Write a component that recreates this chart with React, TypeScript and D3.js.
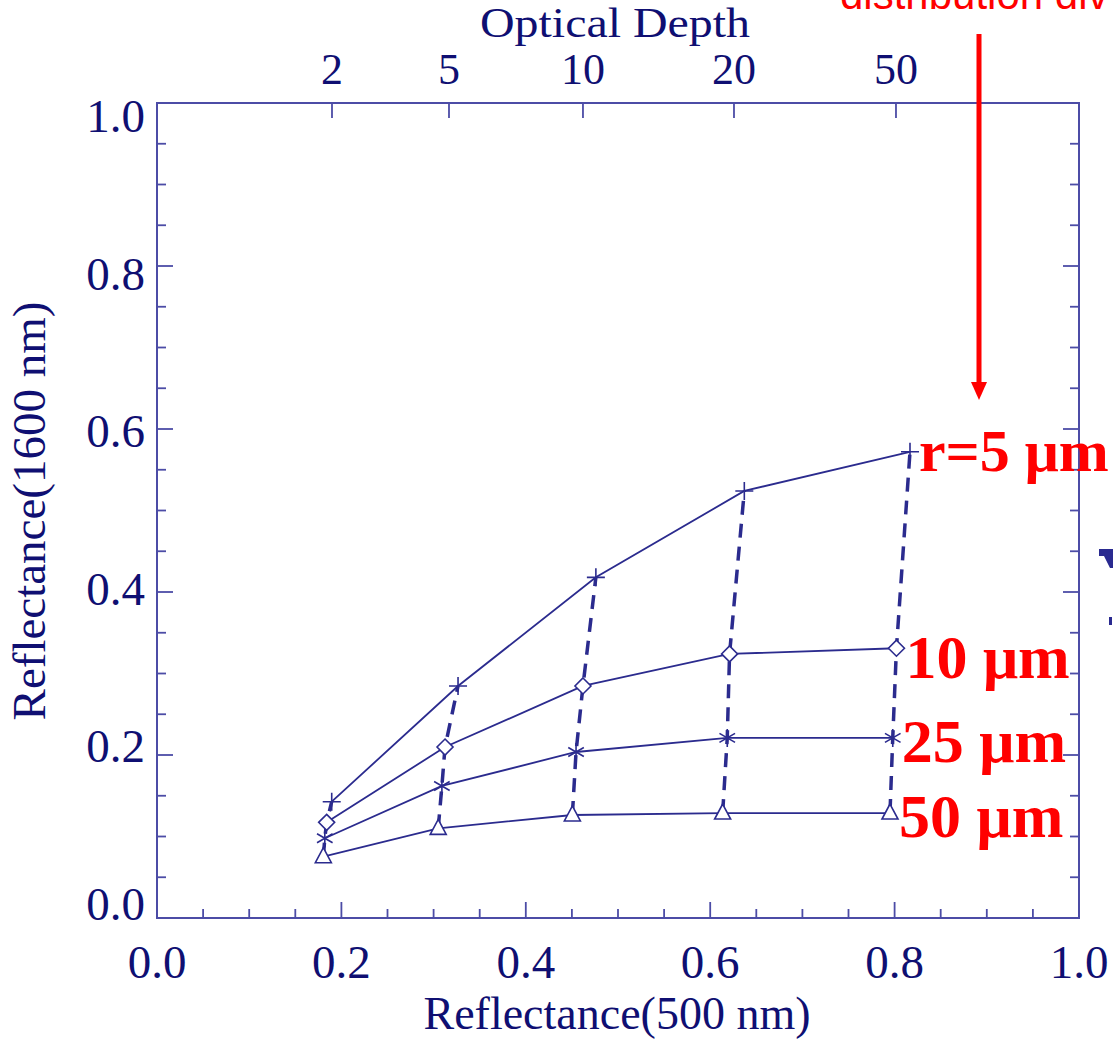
import React from 'react';
import * as d3 from 'd3';

// reflectance at 500 nm (x) and 1600 nm (y), one list per effective radius
const radiusLabels = ['r=5 \u03bcm', '10 \u03bcm', '25 \u03bcm', '50 \u03bcm'];
const markerKinds = ['plus', 'diamond', 'asterisk', 'triangle'];
const x500_r5 = [0.1895, 0.3265, 0.476, 0.637, 0.8167];
const y1600_r5 = [0.1427, 0.2847, 0.418, 0.524, 0.572];
const x500_r10 = [0.184, 0.3124, 0.462, 0.621, 0.802];
const y1600_r10 = [0.1174, 0.2098, 0.2847, 0.324, 0.331];
const x500_r25 = [0.182, 0.309, 0.4545, 0.6185, 0.798];
const y1600_r25 = [0.0978, 0.162, 0.2037, 0.221, 0.221];
const x500_r50 = [0.1804, 0.305, 0.4505, 0.6135, 0.795];
const y1600_r50 = [0.0752, 0.11, 0.1264, 0.1288, 0.1288];

// top axis: optical depth labels and where they sit on the 500 nm axis
const tauLabels = ['2', '5', '10', '20', '50'];
const tauAt = [0.1898, 0.3167, 0.462, 0.6258, 0.8015];

const xTickLabels = ['0.0', '0.2', '0.4', '0.6', '0.8', '1.0'];
const yTickLabels = ['0.0', '0.2', '0.4', '0.6', '0.8', '1.0'];

const W = 1113, H = 1039;
const NAVY = '#0f0f72';
const AXIS = '#4c4ca6';
const LINE = '#2b2b8e';
const RED = '#ff0000';

const Marker = ({ kind, cx, cy }: { kind: string; cx: number; cy: number }) => {
  const s = { stroke: LINE, strokeWidth: 1.6, fill: 'none' };
  if (kind === 'plus') {
    return <path d={`M${cx - 9},${cy}H${cx + 9}M${cx},${cy - 9}V${cy + 9}`} {...s} />;
  }
  if (kind === 'diamond') {
    return <path d={`M${cx},${cy - 8}L${cx + 8},${cy}L${cx},${cy + 8}L${cx - 8},${cy}Z`} {...s} fill="white" />;
  }
  if (kind === 'asterisk') {
    const r = 9;
    const d = [90, 30, 150].map((a) => {
      const dx = r * Math.cos((a * Math.PI) / 180), dy = r * Math.sin((a * Math.PI) / 180);
      return `M${cx - dx},${cy - dy}L${cx + dx},${cy + dy}`;
    }).join('');
    return <path d={d} {...s} />;
  }
  return <path d={`M${cx},${cy - 9}L${cx + 8},${cy + 6}L${cx - 8},${cy + 6}Z`} {...s} fill="white" />;
};

export default function App() {
  const x = d3.scaleLinear().domain([0, 1]).range([157, 1079]);
  const y = d3.scaleLinear().domain([0, 1]).range([918, 103]);
  // label baselines are spread a little differently from the ticks in the original
  const yLab = d3.scaleLinear().domain([0, 1]).range([920, 132]);

  const xs = [x500_r5, x500_r10, x500_r25, x500_r50];
  const ys = [y1600_r5, y1600_r10, y1600_r25, y1600_r50];
  const series = xs.map((col, i) => col.map((v, j) => [v, ys[i][j]] as [number, number]));
  const line = d3.line<[number, number]>().x((d) => x(d[0])).y((d) => y(d[1]));
  const tauLines = tauLabels.map((_, j) => series.map((s) => s[j]).reverse());

  const minor = d3.range(0, 1.0001, 0.05);
  const isMajor = (v: number) => Math.abs(v * 5 - Math.round(v * 5)) < 1e-6;

  const labelDy = [19, 30, 24, 24];
  const serif = '"Liberation Serif", "Times New Roman", serif';

  return (
    <svg width={W} height={H} style={{ position: 'absolute', left: 0, top: 0, background: 'white' }}>
      {/* frame */}
      <rect x={x(0)} y={y(1)} width={x(1) - x(0)} height={y(0) - y(1)} fill="none" stroke={AXIS} strokeWidth={2} />
      {/* bottom / left / right ticks */}
      {minor.map((v) => (
        <g key={v} stroke={AXIS} strokeWidth={1.8}>
          <line x1={x(v)} x2={x(v)} y1={y(0)} y2={y(0) - (isMajor(v) ? 16 : 9)} />
          <line x1={x(0)} x2={x(0) + (isMajor(v) ? 16 : 9)} y1={y(v)} y2={y(v)} />
          <line x1={x(1)} x2={x(1) - (isMajor(v) ? 16 : 9)} y1={y(v)} y2={y(v)} />
        </g>
      ))}
      {/* top optical depth ticks */}
      {tauAt.map((v, i) => (
        <g key={i}>
          <line x1={x(v)} x2={x(v)} y1={y(1)} y2={y(1) + 15} stroke={AXIS} strokeWidth={1.8} />
          <text x={x(v)} y={84} textAnchor="middle" fontFamily={serif} fontSize={44} fill={NAVY}>{tauLabels[i]}</text>
        </g>
      ))}
      <text x={615} y={37} textAnchor="middle" fontFamily={serif} fontSize={43} fill={NAVY}
        textLength={270} lengthAdjust="spacingAndGlyphs">Optical Depth</text>

      {xTickLabels.map((t) => (
        <text key={t} x={x(+t)} y={978} textAnchor="middle" fontFamily={serif} fontSize={47} fill={NAVY}>{t}</text>
      ))}
      {yTickLabels.map((t) => (
        <text key={t} x={145} y={yLab(+t)} textAnchor="end" fontFamily={serif} fontSize={47} fill={NAVY}>{t}</text>
      ))}
      <text x={617} y={1029} textAnchor="middle" fontFamily={serif} fontSize={46} fill={NAVY}>Reflectance(500 nm)</text>
      <text transform="translate(45,511) rotate(-90)" textAnchor="middle" fontFamily={serif} fontSize={47} fill={NAVY}>
        Reflectance(1600 nm)
      </text>

      {/* constant-radius curves */}
      {series.map((s, i) => (
        <path key={i} d={line(s) ?? ''} fill="none" stroke={LINE} strokeWidth={1.8} />
      ))}
      {/* constant optical depth, dashed */}
      {tauLines.map((s, j) => (
        <path key={j} d={line(s) ?? ''} fill="none" stroke={LINE} strokeWidth={3.5} strokeDasharray="14 9" />
      ))}
      {series.map((s, i) =>
        s.map((p, j) => <Marker key={`${i}-${j}`} kind={markerKinds[i]} cx={x(p[0])} cy={y(p[1])} />)
      )}

      {/* radius labels next to the last point of each curve */}
      {series.map((s, i) => {
        const last = s[s.length - 1];
        return (
          <text key={i} x={x(last[0]) + 9} y={y(last[1]) + labelDy[i]} fontFamily={serif} fontWeight="bold"
            fontSize={i === 0 ? 60 : 62} fill={RED}>{radiusLabels[i]}</text>
        );
      })}

      {/* red annotation arrow and cropped caption */}
      <line x1={979} x2={979} y1={34} y2={384} stroke={RED} strokeWidth={5} />
      <path d="M971,382L987,382L979,400Z" fill={RED} />
      <text x={840} y={9} fontFamily='"Liberation Sans", Arial, sans-serif' fontSize={42} fill={RED}>distribution div</text>

      {/* cropped glyph at the right edge */}
      <path d="M1099,549L1113,549L1113,568L1110,568L1104,556L1099,556Z" fill="#2a2a90" />
      <rect x={1109} y={617} width={3} height={8} fill="#2a2a90" />
    </svg>
  );
}
